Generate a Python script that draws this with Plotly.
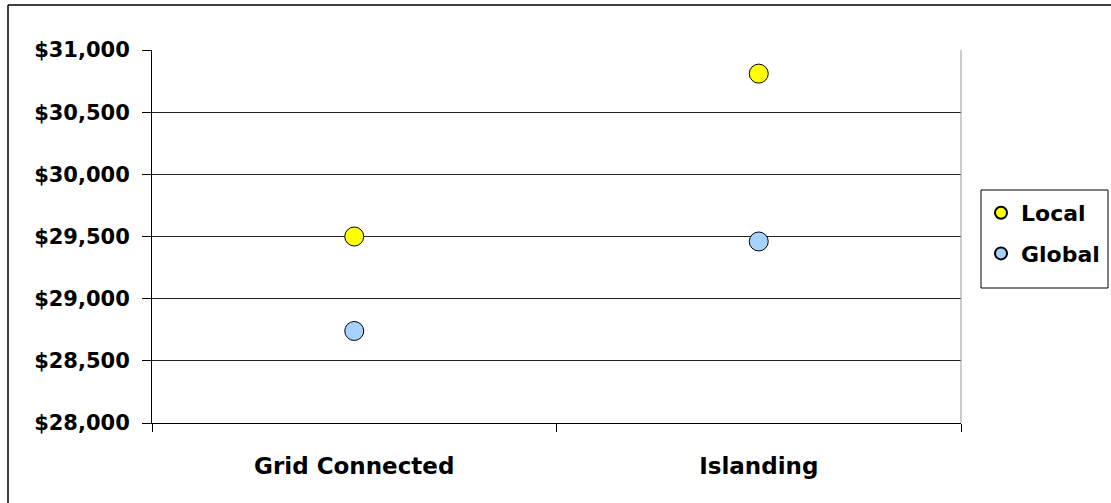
import plotly.graph_objects as go

categories = ["Grid Connected", "Islanding"]
local_values = [29500, 30810]
global_values = [28740, 29460]
y_ticks = [28000, 28500, 29000, 29500, 30000, 30500, 31000]

W, H = 1111, 503
L, R, T, B = 152, 961, 50, 423

def px_x(p):
    return (p - L) / (R - L)

def px_y(p):
    return (B - p) / (B - T)

FONT = "DejaVu Sans"

fig = go.Figure()
fig.add_trace(go.Scatter(
    x=categories, y=local_values, mode="markers", name="Local",
    legendgroup="a",
    marker=dict(size=19, color="#FFFF00", line=dict(color="black", width=1)),
))
fig.add_trace(go.Scatter(
    x=categories, y=global_values, mode="markers", name="Global",
    legendgroup="b",
    marker=dict(size=19, color="#A6D2FF", line=dict(color="black", width=1)),
))

fig.update_layout(
    width=W, height=H, autosize=False,
    margin=dict(l=L, r=W - R, t=T, b=H - B, autoexpand=False),
    paper_bgcolor="white", plot_bgcolor="white",
    font=dict(family=FONT, size=20, color="black", weight="bold"),
    showlegend=True,
    legend=dict(
        x=px_x(981), y=px_y(192), xanchor="left", yanchor="top",
        borderwidth=0, bgcolor="rgba(0,0,0,0)",
        font=dict(family=FONT, size=22, color="black", weight="bold"),
        itemsizing="constant", tracegroupgap=9, traceorder="grouped",
    ),
    xaxis=dict(
        type="category", range=[-0.5, 1.5], tickson="boundaries",
        ticks="outside", ticklen=8, tickcolor="black", tickwidth=1,
        showline=True, linecolor="black", linewidth=1,
        showgrid=False, zeroline=False,
        tickfont=dict(family=FONT, size=23, color="black", weight="bold"),
        ticklabelstandoff=22,
    ),
    yaxis=dict(
        range=[28000, 31000], tickvals=y_ticks,
        ticktext=["${:,}".format(v) for v in y_ticks],
        ticks="outside", ticklen=9, tickcolor="black", tickwidth=1,
        showline=True, linecolor="black", linewidth=1,
        showgrid=True, gridcolor="#222222", gridwidth=1, zeroline=False,
        tickfont=dict(family=FONT, size=21, color="black", weight="bold"),
        ticklabelstandoff=8,
    ),
    shapes=[
        dict(type="line", xref="paper", yref="paper", x0=1, x1=1, y0=0, y1=1,
             line=dict(color="#999999", width=1)),
        dict(type="line", xref="paper", yref="paper",
             x0=px_x(8), x1=px_x(1115), y0=px_y(5), y1=px_y(5),
             line=dict(color="black", width=1.5)),
        dict(type="line", xref="paper", yref="paper",
             x0=px_x(8), x1=px_x(8), y0=px_y(5), y1=px_y(510),
             line=dict(color="black", width=1.5)),
        dict(type="rect", xref="paper", yref="paper",
             x0=px_x(981), x1=px_x(1108), y0=px_y(288), y1=px_y(190),
             line=dict(color="black", width=1), fillcolor="rgba(0,0,0,0)"),
    ],
)

fig.write_html(
    "out.html",
    config={"responsive": False, "displayModeBar": False},
    post_script="document.body.style.margin='0';document.body.style.overflow='hidden';",
)
